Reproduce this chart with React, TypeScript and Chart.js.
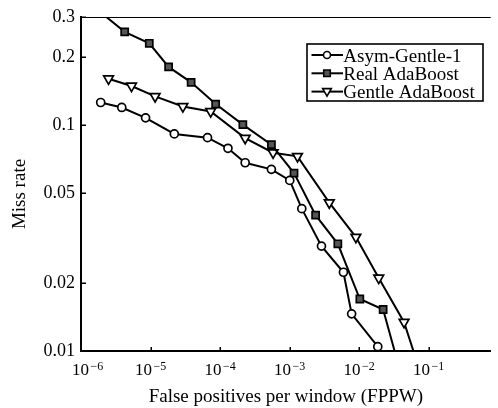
import React, { useEffect, useRef } from 'react';
import { Chart, registerables } from 'chart.js';

Chart.register(...registerables);

// ---- data ----
const seriesLabels = ['Asym-Gentle-1', 'Real AdaBoost', 'Gentle AdaBoost'];

const asymX = [1.92e-6, 3.86e-6, 8.49e-6, 2.2e-5, 6.61e-5, 1.3e-4, 2.3e-4, 5.48e-4, 1.007e-3, 1.5e-3, 2.88e-3, 5.96e-3, 7.82e-3, 1.86e-2];
const asymY = [0.1256, 0.1194, 0.1074, 0.0912, 0.0878, 0.0788, 0.068, 0.0636, 0.0568, 0.0426, 0.0291, 0.0223, 0.0146, 0.01045];

const realX = [1.56e-6, 4.25e-6, 9.6e-6, 1.82e-5, 3.84e-5, 8.65e-5, 2.13e-4, 5.49e-4, 1.16e-3, 2.37e-3, 4.95e-3, 1.026e-2, 2.22e-2, 3.86e-2];
const realY = [0.331, 0.258, 0.2296, 0.1805, 0.1542, 0.1236, 0.1003, 0.0818, 0.0612, 0.0399, 0.0298, 0.01698, 0.01526, 0.00824];

const gentleX = [2.49e-6, 5.33e-6, 1.164e-5, 2.92e-5, 7.34e-5, 2.3e-4, 5.8e-4, 1.3e-3, 3.73e-3, 9.0e-3, 1.92e-2, 4.44e-2, 7.43e-2];
const gentleY = [0.16, 0.1486, 0.1336, 0.1206, 0.1146, 0.0874, 0.0753, 0.0726, 0.0453, 0.0319, 0.02104, 0.01341, 0.00824];

const xTickValues = [1e-6, 1e-5, 1e-4, 1e-3, 1e-2, 1e-1];
const xTickBase = '10';
const xTickExponents = ['\u22126', '\u22125', '\u22124', '\u22123', '\u22122', '\u22121'];
const yTickValues = [0.01, 0.02, 0.05, 0.1, 0.2, 0.3];
const yTickLabels = ['0.01', '0.02', '0.05', '0.1', '0.2', '0.3'];
const xTitle = 'False positives per window (FPPW)';
const yTitle = 'Miss rate';

const X_MIN = 1e-6;
const X_MAX = 0.783;
const Y_MIN = 0.01;
const Y_MAX = 0.3;

const FONT = '"Liberation Serif", "Times New Roman", serif';

function toPoints(xs: number[], ys: number[]) {
  return xs.map((x, i) => ({ x, y: ys[i] }));
}

type MarkerStyle = 'circle' | 'rect' | 'triangle';

function drawMarker(ctx: CanvasRenderingContext2D, style: MarkerStyle, x: number, y: number, r: number, fill: string, lw: number) {
  ctx.beginPath();
  if (style === 'circle') {
    ctx.arc(x, y, r, 0, Math.PI * 2);
  } else if (style === 'rect') {
    const s = r * Math.SQRT1_2;
    ctx.rect(x - s, y - s, 2 * s, 2 * s);
  } else {
    const w = r * Math.sin(Math.PI / 3);
    ctx.moveTo(x, y + r);
    ctx.lineTo(x - w, y - r / 2);
    ctx.lineTo(x + w, y - r / 2);
    ctx.closePath();
  }
  ctx.fillStyle = fill;
  ctx.fill();
  ctx.lineWidth = lw;
  ctx.strokeStyle = '#000';
  ctx.stroke();
}

const markerStyles: MarkerStyle[] = ['circle', 'rect', 'triangle'];
const markerFills = ['#ffffff', '#555555', '#ffffff'];

const decorPlugin = {
  id: 'decor',
  afterDraw(chart: any) {
    const { ctx, chartArea: a, scales } = chart;
    const xs = scales.x;
    const ys = scales.y;
    ctx.save();

    // top frame line
    ctx.strokeStyle = '#000';
    ctx.lineWidth = 1;
    ctx.beginPath();
    ctx.moveTo(a.left, a.top + 0.5);
    ctx.lineTo(a.right, a.top + 0.5);
    ctx.stroke();

    // inward tick marks
    ctx.lineWidth = 1.5;
    ctx.beginPath();
    xTickValues.forEach((v) => {
      const px = Math.round(xs.getPixelForValue(v)) + 0.25;
      ctx.moveTo(px, a.bottom);
      ctx.lineTo(px, a.bottom - 4);
    });
    yTickValues.forEach((v) => {
      const py = Math.round(ys.getPixelForValue(v)) + 0.25;
      ctx.moveTo(a.left, py);
      ctx.lineTo(a.left + 5, py);
    });
    ctx.stroke();

    // x tick labels with superscript exponents
    ctx.fillStyle = '#000';
    ctx.textBaseline = 'alphabetic';
    ctx.textAlign = 'left';
    xTickValues.forEach((v, i) => {
      const px = xs.getPixelForValue(v);
      ctx.font = `17px ${FONT}`;
      const wb = ctx.measureText(xTickBase).width;
      ctx.font = `12px ${FONT}`;
      const we = ctx.measureText(xTickExponents[i]).width;
      const total = wb + 1.5 + we;
      let start = px - total / 2;
      if (i === 0) start = Math.max(start, a.left - 9);
      ctx.font = `17px ${FONT}`;
      ctx.fillText(xTickBase, start, 375);
      ctx.font = `12px ${FONT}`;
      ctx.fillText(xTickExponents[i], start + wb + 1.5, 369.5);
    });

    // y axis title
    ctx.save();
    ctx.translate(19.6, 194);
    ctx.rotate(-Math.PI / 2);
    ctx.font = `19px ${FONT}`;
    ctx.textAlign = 'center';
    ctx.textBaseline = 'middle';
    ctx.fillText(yTitle, 0, 0);
    ctx.restore();

    // legend
    const bx = 307, by = 44, bw = 176, bh = 57;
    ctx.fillStyle = '#fff';
    ctx.fillRect(bx, by, bw, bh);
    ctx.lineWidth = 1.6;
    ctx.strokeStyle = '#000';
    ctx.strokeRect(bx, by, bw, bh);
    const baselines = [61.7, 80, 98.3];
    chart.data.datasets.forEach((ds: any, i: number) => {
      const bl = baselines[i];
      const ly = bl - 6.7;
      ctx.beginPath();
      ctx.lineWidth = 2;
      ctx.strokeStyle = '#000';
      ctx.moveTo(311.5, ly);
      ctx.lineTo(343, ly);
      ctx.stroke();
      const r = markerStyles[i] === 'circle' ? 3.5 : markerStyles[i] === 'rect' ? 4.6 : 5;
      drawMarker(ctx, markerStyles[i], 327, markerStyles[i] === 'triangle' ? ly - 0.5 : ly, r, markerFills[i], 1.6);
      ctx.fillStyle = '#000';
      ctx.font = `19px ${FONT}`;
      ctx.textAlign = 'left';
      ctx.textBaseline = 'alphabetic';
      ctx.fillText(ds.label, 343.3, bl);
    });

    ctx.restore();
  },
};

export default function App() {
  const canvasRef = useRef<HTMLCanvasElement | null>(null);

  useEffect(() => {
    const canvas = canvasRef.current;
    if (!canvas) return;

    const common = {
      borderColor: '#000',
      borderWidth: 2,
      tension: 0,
      fill: false,
      clip: 0,
      pointBorderColor: '#000',
      pointBorderWidth: 1.7,
    };

    const chart = new Chart(canvas, {
      type: 'line',
      data: {
        datasets: [
          {
            ...common,
            label: seriesLabels[0],
            data: toPoints(asymX, asymY),
            pointStyle: 'circle',
            pointRadius: 4,
            pointBackgroundColor: '#fff',
          },
          {
            ...common,
            label: seriesLabels[1],
            data: toPoints(realX, realY),
            pointStyle: 'rect',
            pointRadius: 5,
            pointBackgroundColor: '#555',
          },
          {
            ...common,
            label: seriesLabels[2],
            data: toPoints(gentleX, gentleY),
            pointStyle: 'triangle',
            pointRotation: 180,
            pointRadius: 5.6,
            pointBackgroundColor: '#fff',
          },
        ],
      },
      options: {
        animation: false,
        responsive: false,
        devicePixelRatio: 1,
        layout: { padding: { top: 17, right: 0, bottom: 0, left: 0 } },
        plugins: {
          legend: { display: false },
          tooltip: { enabled: false },
        },
        scales: {
          x: {
            type: 'logarithmic',
            min: X_MIN,
            max: X_MAX,
            grid: { display: false },
            border: { display: true, color: '#000', width: 2 },
            ticks: { display: false },
            afterBuildTicks: (scale: any) => {
              scale.ticks = xTickValues.map((v) => ({ value: v }));
            },
            afterFit: (scale: any) => {
              scale.height = 57;
            },
            title: {
              display: true,
              text: xTitle,
              color: '#000',
              font: { family: FONT, size: 19 },
              padding: { top: 0, bottom: 0 },
            },
          },
          y: {
            type: 'logarithmic',
            min: Y_MIN,
            max: Y_MAX,
            grid: { display: false, drawTicks: false },
            border: { display: true, color: '#000', width: 2 },
            afterBuildTicks: (scale: any) => {
              scale.ticks = yTickValues.map((v) => ({ value: v }));
            },
            afterFit: (scale: any) => {
              scale.width = 81;
            },
            ticks: {
              autoSkip: false,
              color: '#000',
              padding: 6,
              font: { family: FONT, size: 18 },
              callback: (_v: any, i: number) => yTickLabels[i],
            },
          },
        },
      } as any,
      plugins: [decorPlugin],
    });

    return () => chart.destroy();
  }, []);

  return (
    <div style={{ position: 'absolute', left: 0, top: 0, width: 498, height: 408, background: '#fff' }}>
      <canvas ref={canvasRef} width={498} height={408} style={{ display: 'block' }} />
    </div>
  );
}
